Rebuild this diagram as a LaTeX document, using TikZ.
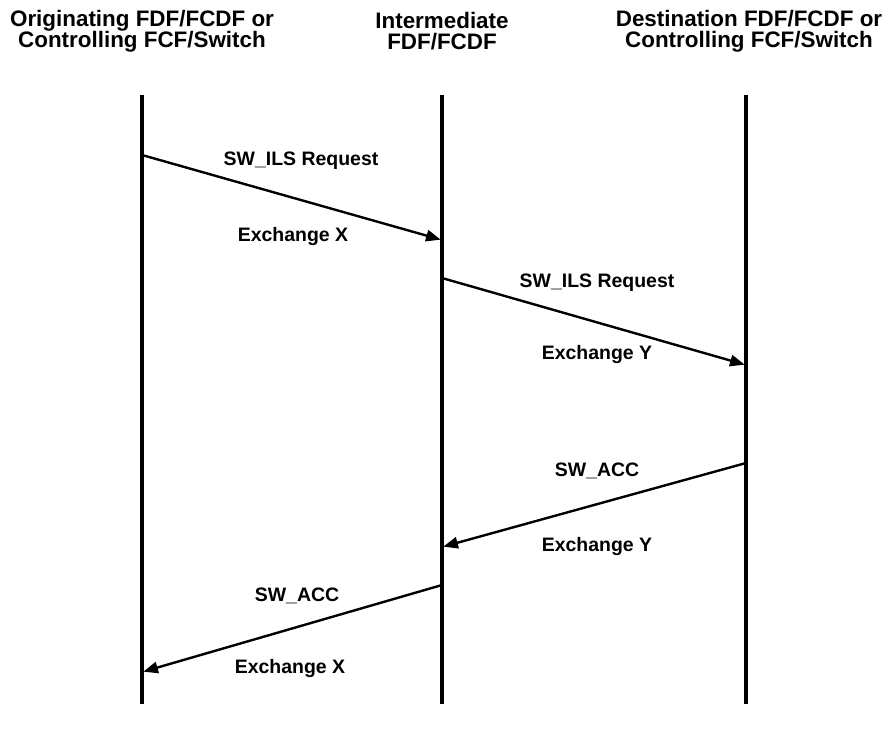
\documentclass[tikz,border=0pt]{standalone}
\usepackage{fontspec}
\setmainfont{Liberation Sans}
\usetikzlibrary{arrows.meta}
\begin{document}
\begin{tikzpicture}[x=0.75pt,y=-0.75pt,
  lifeline/.style={line width=3.2pt},
  msg/.style={line width=1.8pt,-{Triangle[length=11pt,width=8.5pt]},shorten >=1pt},
  lbl/.style={font=\bfseries\fontsize{14.6pt}{16pt}\selectfont,inner sep=0pt},
  hdr/.style={font=\bfseries\fontsize{16.8pt}{16pt}\selectfont,align=center,inner sep=0pt}]
\useasboundingbox (0,0) rectangle (884,729);
% headers
\node[hdr] (h1) at (142,31) {Originating FDF/FCDF or\\Controlling FCF/Switch};
\node[hdr] (h2) at (442,31) {Intermediate\\FDF/FCDF};
\node[hdr] (h3) at (749,31) {Destination FDF/FCDF or\\Controlling FCF/Switch};
% lifelines
\coordinate (t1) at (142,95); \coordinate (b1) at (142,704);
\coordinate (t2) at (442,95); \coordinate (b2) at (442,704);
\coordinate (t3) at (746,95); \coordinate (b3) at (746,704);
\draw[lifeline] (t1) -- (b1);
\draw[lifeline] (t2) -- (b2);
\draw[lifeline] (t3) -- (b3);
% message end points
\coordinate (m1s) at (142,155); \coordinate (m1e) at (442,240);
\coordinate (m2s) at (442,278); \coordinate (m2e) at (746,365);
\coordinate (m3s) at (746,463); \coordinate (m3e) at (442,547);
\coordinate (m4s) at (442,585); \coordinate (m4e) at (142,672);
\draw[msg] (m1s) -- (m1e);
\draw[msg] (m2s) -- (m2e);
\draw[msg] (m3s) -- (m3e);
\draw[msg] (m4s) -- (m4e);
% labels
\node[lbl] (l1a) at (301,161) {SW\_ILS Request};
\node[lbl] (l1b) at (293,237) {Exchange X};
\node[lbl] (l2a) at (597,283) {SW\_ILS Request};
\node[lbl] (l2b) at (597,354) {Exchange Y};
\node[lbl] (l3a) at (597,471) {SW\_ACC};
\node[lbl] (l3b) at (597,546) {Exchange Y};
\node[lbl] (l4a) at (297,596) {SW\_ACC};
\node[lbl] (l4b) at (290,668) {Exchange X};
\end{tikzpicture}
\end{document}
